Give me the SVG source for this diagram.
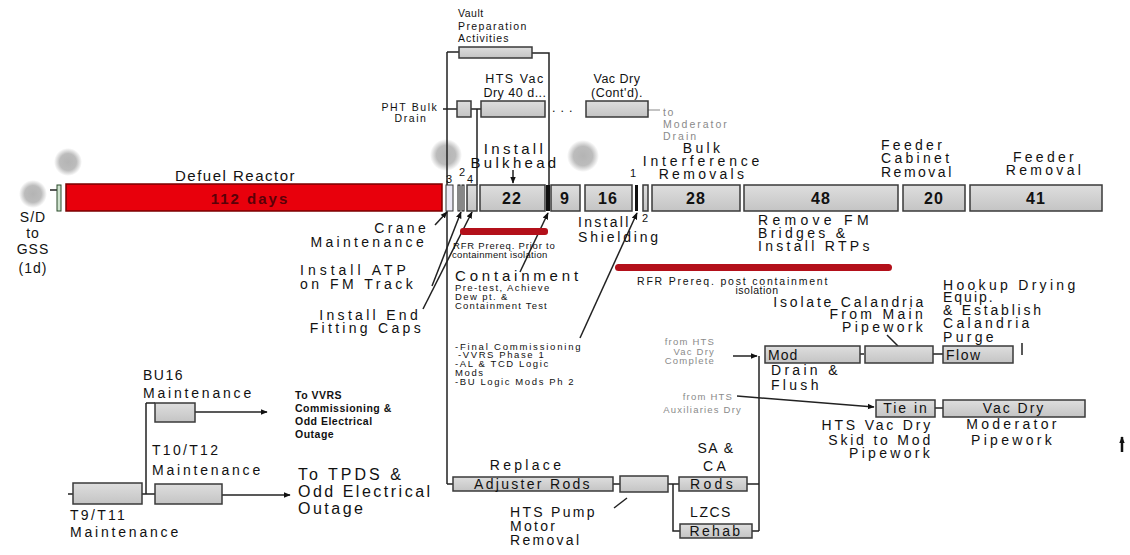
<svg xmlns="http://www.w3.org/2000/svg" width="1130" height="555" viewBox="0 0 1130 555">
<style>
text{font-family:"Liberation Sans",Arial,sans-serif;fill:#111}
.lg{font-size:14px;letter-spacing:3.3px}
.md{font-size:12.5px;letter-spacing:1.5px}
.sm{font-size:10.5px;letter-spacing:1.6px}
.xs{font-size:9.5px;letter-spacing:1.2px}
.gr{fill:#8a8a8a}
.num{font-size:16px;font-weight:bold;letter-spacing:1px}
.c{text-anchor:middle}
.e{text-anchor:end}
.box{fill:url(#g);stroke:#3a3a3a;stroke-width:1.5}
.ln{stroke:#222;stroke-width:1.5;fill:none}
.ar{stroke:#222;stroke-width:1.5;fill:none;marker-end:url(#ah)}
</style>
<defs>
<linearGradient id="g" x1="0" y1="0" x2="0" y2="1"><stop offset="0" stop-color="#dedede"/><stop offset="1" stop-color="#c4c4c4"/></linearGradient>
<radialGradient id="blob"><stop offset="0" stop-color="#b4b4b4"/><stop offset="0.6" stop-color="#bcbcbc"/><stop offset="1" stop-color="#bcbcbc" stop-opacity="0"/></radialGradient>
<marker id="ah" viewBox="0 0 10 10" refX="9" refY="5" markerWidth="7" markerHeight="7" orient="auto-start-reverse" markerUnits="userSpaceOnUse"><path d="M0,1 L10,5 L0,9 z" fill="#111"/></marker>
</defs>
<rect width="1130" height="555" fill="#fff"/>

<g id="blobs">
<circle cx="68" cy="162" r="14" fill="url(#blob)"/>
<circle cx="33" cy="194" r="14" fill="url(#blob)"/>
<circle cx="446" cy="155" r="16" fill="url(#blob)"/>
<circle cx="583" cy="156" r="16" fill="url(#blob)"/>
</g>

<g id="connectors">
<path class="ln" d="M447,52 V484 M447,52 H459 M532,53 H549 V185"/>
<path class="ln" d="M443,109 H457 M471,109 H481 M477,109 V185"/>
<path d="M648,110 H660" stroke="#888" stroke-width="1"/>
<path class="ln" d="M50,190 H57" stroke-width="1"/>
<path class="ar" d="M435,225 L447,212"/>
<path class="ar" d="M432,286 L461,212"/>
<path class="ar" d="M423,309 L472,212"/>
<path class="ar" d="M513,170 V183"/>
<path class="ar" d="M520,272 L548,213"/>
<path class="ar" d="M580,338 L637,213"/>
<path class="ar" d="M733,356 H757"/>
<path class="ln" d="M759,356 V531"/>
<path class="ln" d="M860,354 H864 M933,354 H943" stroke-width="1"/>
<path class="ln" d="M887,335 L898,346" stroke-width="1"/>
<path class="ln" d="M1022,343 V355" stroke-width="1.2"/>
<path class="ar" d="M737,396 L874,407"/>
<path class="ln" d="M935,408 H943"/>
<path d="M1122,452 V437" stroke="#111" stroke-width="2.5" fill="none" marker-end="url(#ah)"/>
<path class="ln" d="M447,484 H453 M613,484 H620 M668,484 H679 M673,484 V531 H680 M747,484 H759 M752,531 H759"/>
<path class="ln" d="M627,498 L614,508" stroke-width="1"/>
<path class="ln" d="M68,494 H73 M142,494 H155 M146,403 V494 M146,403 H155"/>
<path class="ar" d="M195,412 H267"/>
<path class="ar" d="M222,495 H290"/>
</g>

<g id="n-sdgss">
<rect x="57" y="185" width="4" height="26" fill="#cfe3cf" stroke="#2a4a2a" stroke-width="1"/>
<text class="lg c" x="33" y="222" style="letter-spacing:1px">S/D</text>
<text class="lg c" x="33" y="238" style="letter-spacing:1px">to</text>
<text class="lg c" x="33" y="254" style="letter-spacing:1px">GSS</text>
<text class="lg c" x="33" y="273" style="letter-spacing:1px">(1d)</text>
</g>

<g id="n-defuel">
<rect x="66" y="184" width="376" height="27" fill="#e8000c" stroke="#7a0000" stroke-width="1.5"/>
<text class="lg" x="175" y="181" style="font-size:15px;letter-spacing:1.5px">Defuel Reactor</text>
<text class="c" x="250" y="204" style="font-size:15px;font-weight:bold;fill:#5a0008;letter-spacing:2px">112 days</text>
</g>

<g id="n-small">
<rect x="446" y="185" width="7" height="26" fill="#eceaf6" stroke="#333" stroke-width="1"/>
<rect x="458" y="185" width="2" height="26" fill="#fff" stroke="#111" stroke-width="1"/>
<rect x="462" y="185" width="2" height="26" fill="#fff" stroke="#111" stroke-width="1"/>
<rect x="467" y="185" width="10" height="26" class="box" stroke-width="1"/>
<text x="446" y="183" style="font-size:11px">3</text>
<text x="459" y="176" style="font-size:11px">2</text>
<text x="467" y="183" style="font-size:11px">4</text>
</g>

<g id="n-bulkhead">
<rect x="480" y="185" width="65" height="26" class="box"/>
<text class="num c" x="512" y="204">22</text>
<text class="lg c" x="515" y="154" style="font-size:15px">Install</text>
<text class="lg c" x="515" y="168" style="font-size:15px">Bulkhead</text>
</g>

<g id="n-9">
<rect x="546" y="185" width="4" height="26" fill="#111"/>
<rect x="551" y="185" width="29" height="26" class="box"/>
<text class="num c" x="565" y="204">9</text>
</g>

<g id="n-16">
<rect x="585" y="185" width="47" height="26" class="box"/>
<text class="num c" x="608" y="204">16</text>
</g>

<g id="n-thin">
<rect x="635" y="185" width="3" height="26" fill="#111"/>
<rect x="643" y="185" width="5" height="26" class="box" stroke-width="1"/>
<text x="630" y="177" style="font-size:11px">1</text>
</g>

<g id="n-bulk">
<rect x="652" y="185" width="88" height="26" class="box"/>
<text class="num c" x="696" y="204">28</text>
<text class="lg c" x="703" y="153">Bulk</text>
<text class="lg c" x="703" y="166" style="letter-spacing:3.8px">Interference</text>
<text class="lg c" x="703" y="179">Removals</text>
</g>

<g id="n-48">
<rect x="744" y="185" width="154" height="26" class="box"/>
<text class="num c" x="821" y="204">48</text>
</g>

<g id="n-cabinet">
<rect x="903" y="185" width="62" height="26" class="box"/>
<text class="num c" x="934" y="204">20</text>
<text class="lg" x="881" y="150">Feeder</text>
<text class="lg" x="881" y="163">Cabinet</text>
<text class="lg" x="881" y="177" style="letter-spacing:2.5px">Removal</text>
</g>

<g id="n-feeder">
<rect x="970" y="185" width="132" height="26" class="box"/>
<text class="num c" x="1036" y="204">41</text>
<text class="lg c" x="1045" y="162">Feeder</text>
<text class="lg c" x="1045" y="175">Removal</text>
</g>

<g id="n-vault">
<rect x="459" y="47" width="73" height="11" class="box" stroke-width="1.2"/>
<text class="sm" x="458" y="17" style="letter-spacing:0.5px">Vault</text>
<text class="sm" x="458" y="30" style="letter-spacing:1.4px">Preparation</text>
<text class="sm" x="458" y="42" style="letter-spacing:1px">Activities</text>
</g>

<g id="n-pht">
<rect x="457" y="101" width="14" height="16" class="box" stroke-width="1.2"/>
<text class="sm c" x="410" y="111">PHT Bulk</text>
<text class="sm c" x="411" y="122">Drain</text>
</g>

<g id="n-htsvac">
<rect x="481" y="101" width="64" height="16" class="box" stroke-width="1.2"/>
<text class="md c" x="515" y="83">HTS Vac</text>
<text class="md c" x="515" y="97" style="letter-spacing:0.5px">Dry 40 d...</text>
<text class="md" x="552" y="112" style="letter-spacing:5px">...</text>
</g>

<g id="n-vaccont">
<rect x="586" y="101" width="62" height="16" class="box" stroke-width="1.2"/>
<text class="md c" x="617" y="83" style="letter-spacing:0.5px">Vac Dry</text>
<text class="md c" x="617" y="97" style="letter-spacing:0.5px">(Cont'd).</text>
<text class="sm gr" x="663" y="116">to</text>
<text class="sm gr" x="663" y="128" style="letter-spacing:2px">Moderator</text>
<text class="sm gr" x="663" y="140" style="letter-spacing:2px">Drain</text>
</g>

<g id="n-labels-left">
<text class="lg e" x="429" y="233">Crane</text>
<text class="lg e" x="427" y="247">Maintenance</text>
<text class="lg" x="300" y="275" style="letter-spacing:4px">Install ATP</text>
<text class="lg" x="300" y="289" style="letter-spacing:3.5px">on FM Track</text>
<text class="lg e" x="421" y="320">Install End</text>
<text class="lg e" x="424" y="333">Fitting Caps</text>
</g>

<g id="n-rfr1">
<rect x="460" y="228" width="88" height="7" rx="3" fill="#b3101a"/>
<text class="xs" x="453" y="249" style="letter-spacing:0.8px">RFR Prereq. Prior to</text>
<text class="xs" x="452" y="258" style="letter-spacing:0.3px">containment isolation</text>
</g>

<g id="n-containment">
<text class="lg" x="455" y="281" style="font-size:15px;letter-spacing:3.8px">Containment</text>
<text class="xs" x="455" y="291" style="letter-spacing:1.4px">Pre-test, Achieve</text>
<text class="xs" x="455" y="300" style="letter-spacing:1.4px">Dew pt. &amp;</text>
<text class="xs" x="455" y="309" style="letter-spacing:1.2px">Containment Test</text>
</g>

<g id="n-shielding">
<text class="lg" x="578" y="227" style="letter-spacing:2.3px">Install</text>
<text class="lg" x="578" y="242" style="letter-spacing:2.8px">Shielding</text>
<text x="642" y="222" style="font-size:11px">2</text>
</g>

<g id="n-removefm">
<text class="lg" x="758" y="225" style="letter-spacing:4.3px">Remove FM</text>
<text class="lg" x="758" y="238">Bridges &amp;</text>
<text class="lg" x="758" y="251">Install RTPs</text>
</g>

<g id="n-rfr2">
<rect x="615" y="264" width="277" height="7" rx="3.5" fill="#b3101a"/>
<text class="sm" x="637" y="285" style="letter-spacing:1.8px">RFR Prereq. post containment</text>
<text class="sm c" x="757" y="294" style="letter-spacing:0.5px">isolation</text>
</g>

<g id="n-finalcomm">
<text class="xs" x="455" y="350" style="letter-spacing:1.8px">-Final Commissioning</text>
<text class="xs" x="458" y="358" style="letter-spacing:1.6px">-VVRS Phase  1</text>
<text class="xs" x="455" y="367" style="letter-spacing:1.6px">-AL &amp; TCD Logic</text>
<text class="xs" x="455" y="376" style="letter-spacing:1.6px">Mods</text>
<text class="xs" x="455" y="385" style="letter-spacing:1.6px">-BU Logic Mods Ph  2</text>
</g>

<g id="n-isolate">
<rect x="865" y="346" width="68" height="17" class="box"/>
<text class="lg e" x="926" y="307" style="letter-spacing:2.8px">Isolate Calandria</text>
<text class="lg e" x="926" y="319">From Main</text>
<text class="lg e" x="926" y="332">Pipework</text>
</g>

<g id="n-mod">
<rect x="765" y="346" width="95" height="17" class="box"/>
<text class="lg" x="768" y="360" style="letter-spacing:1px">Mod</text>
<text class="lg" x="771" y="375">Drain &amp;</text>
<text class="lg" x="771" y="390">Flush</text>
<text class="xs gr e" x="715" y="345">from HTS</text>
<text class="xs gr e" x="715" y="355">Vac Dry</text>
<text class="xs gr e" x="715" y="364">Complete</text>
</g>

<g id="n-hookup">
<rect x="943" y="346" width="70" height="17" class="box"/>
<text class="lg" x="946" y="360" style="letter-spacing:1.5px">Flow</text>
<text class="lg" x="943" y="290">Hookup Drying</text>
<text class="lg" x="943" y="302" style="letter-spacing:2px">Equip.</text>
<text class="lg" x="943" y="315" style="letter-spacing:2.8px">&amp; Establish</text>
<text class="lg" x="943" y="328">Calandria</text>
<text class="lg" x="943" y="342">Purge</text>
</g>

<g id="n-tiein">
<rect x="876" y="400" width="59" height="17" class="box"/>
<text class="lg c" x="906" y="413" style="letter-spacing:2px">Tie in</text>
<text class="lg e" x="933" y="430" style="letter-spacing:2.8px">HTS Vac Dry</text>
<text class="lg e" x="933" y="445" style="letter-spacing:2.8px">Skid to Mod</text>
<text class="lg e" x="933" y="458">Pipework</text>
<text class="xs gr e" x="733" y="400">from HTS</text>
<text class="xs gr e" x="742" y="413">Auxiliaries  Dry</text>
</g>

<g id="n-vacdrymod">
<rect x="943" y="400" width="142" height="17" class="box"/>
<text class="lg c" x="1014" y="413" style="letter-spacing:2px">Vac Dry</text>
<text class="lg c" x="1013" y="429">Moderator</text>
<text class="lg c" x="1013" y="445">Pipework</text>
</g>

<g id="n-adjuster">
<rect x="453" y="477" width="160" height="14" class="box"/>
<text class="lg c" x="533" y="489" style="letter-spacing:2.3px">Adjuster Rods</text>
<text class="lg c" x="527" y="470">Replace</text>
</g>

<g id="n-pump">
<rect x="620" y="476" width="48" height="16" class="box"/>
<text class="lg" x="510" y="517" style="letter-spacing:2.3px">HTS Pump</text>
<text class="lg" x="510" y="531" style="letter-spacing:2.3px">Motor</text>
<text class="lg" x="510" y="545" style="letter-spacing:2.3px">Removal</text>
</g>

<g id="n-sarods">
<rect x="679" y="477" width="68" height="14" class="box"/>
<text class="lg c" x="713" y="489">Rods</text>
<text class="lg c" x="716" y="453" style="letter-spacing:1.5px">SA &amp;</text>
<text class="lg c" x="716" y="471">CA</text>
</g>

<g id="n-lzcs">
<rect x="680" y="524" width="72" height="14" class="box"/>
<text class="lg c" x="716" y="536" style="letter-spacing:2.3px">Rehab</text>
<text class="lg c" x="711" y="517" style="letter-spacing:1.5px">LZCS</text>
</g>

<g id="n-bu16">
<rect x="155" y="403" width="40" height="19" class="box"/>
<text class="lg" x="143" y="380" style="letter-spacing:1.5px">BU16</text>
<text class="lg" x="143" y="398" style="letter-spacing:2.8px">Maintenance</text>
<text class="sm" x="295" y="399" style="font-weight:bold;letter-spacing:0.5px">To VVRS</text>
<text class="sm" x="295" y="412" style="font-weight:bold;letter-spacing:0.5px">Commissioning &amp;</text>
<text class="sm" x="295" y="425" style="font-weight:bold;letter-spacing:0.5px">Odd Electrical</text>
<text class="sm" x="295" y="438" style="font-weight:bold;letter-spacing:0.5px">Outage</text>
</g>

<g id="n-t10">
<rect x="155" y="484" width="67" height="20" class="box"/>
<text class="lg" x="152" y="455" style="letter-spacing:2.3px">T10/T12</text>
<text class="lg" x="152" y="475" style="letter-spacing:2.8px">Maintenance</text>
<text class="lg" x="298" y="480" style="font-size:16px;letter-spacing:3px">To TPDS &amp;</text>
<text class="lg" x="298" y="497" style="font-size:16px;letter-spacing:2.5px">Odd Electrical</text>
<text class="lg" x="298" y="514" style="font-size:16px;letter-spacing:2.5px">Outage</text>
</g>

<g id="n-t9">
<rect x="73" y="483" width="69" height="21" class="box"/>
<text class="lg" x="70" y="520" style="letter-spacing:2.3px">T9/T11</text>
<text class="lg" x="70" y="537" style="letter-spacing:2.8px">Maintenance</text>
</g>
</svg>
